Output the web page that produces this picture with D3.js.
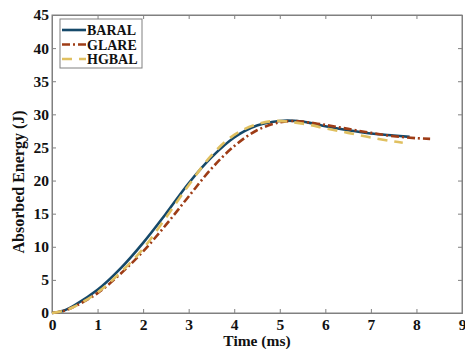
<!DOCTYPE html>
<html>
<head>
<meta charset="utf-8">
<script src="https://cdn.jsdelivr.net/npm/d3@7"></script>
<style>
  body { margin: 0; background: #fff; }
  text { font-family: "Liberation Serif", "Times New Roman", serif; font-weight: bold; }
</style>
</head>
<body>
<svg id="chart" width="465" height="349"></svg>
<script>
// values
const seriesNames = ['BARAL', 'GLARE', 'HGBAL'];

const baralTime = [0, 0.25, 0.5, 1, 1.5, 2, 2.5, 3, 3.5, 4, 4.5, 5, 5.5, 6, 6.5, 7, 7.5, 7.85];
const baralEnergy = [0, 0.35, 1.2, 3.5, 6.7, 10.6, 15.0, 19.6, 23.5, 26.5, 28.3, 29.0, 28.9, 28.2, 27.6, 27.1, 26.8, 26.6];

const glareTime = [0, 0.25, 0.5, 1, 1.5, 2, 2.5, 3, 3.5, 4, 4.5, 5, 5.3, 5.5, 6, 6.5, 7, 7.5, 8, 8.3];
const glareEnergy = [0, 0.3, 1.0, 3.0, 5.9, 9.3, 13.3, 17.6, 21.8, 25.2, 27.6, 28.8, 29.0, 28.9, 28.4, 27.8, 27.2, 26.7, 26.4, 26.3];

const hgbalTime = [0, 0.25, 0.5, 1, 1.5, 2, 2.5, 3, 3.5, 4, 4.5, 4.9, 5.5, 6, 6.5, 7, 7.5, 7.7];
const hgbalEnergy = [0, 0.3, 1.0, 3.1, 6.1, 9.7, 14.4, 19.3, 23.8, 26.9, 28.5, 29.0, 28.6, 27.9, 27.2, 26.5, 25.9, 25.7];

const xTicks = [0, 1, 2, 3, 4, 5, 6, 7, 8, 9];
const yTicks = [0, 5, 10, 15, 20, 25, 30, 35, 40, 45];

const colors = ['#15496a', '#9e3c16', '#e0c060'];
const dashes = [null, '8,3,2,3', '10,7'];

const svg = d3.select('#chart');
const plotLeft = 52, plotRight = 462, plotTop = 15, plotBottom = 313;

const x = d3.scaleLinear().domain([0, 9]).range([plotLeft, plotRight]);
const y = d3.scaleLinear().domain([0, 45]).range([plotBottom, plotTop]);

const axisColor = '#808080';

// box
svg.append('rect')
  .attr('x', plotLeft).attr('y', plotTop)
  .attr('width', plotRight - plotLeft).attr('height', plotBottom - plotTop)
  .attr('fill', 'none').attr('stroke', axisColor).attr('stroke-width', 1);

// axes, ticks pointing inward
const xAxis = svg.append('g').attr('transform', `translate(0,${plotBottom})`)
  .call(d3.axisBottom(x).tickValues(xTicks).tickSize(-4).tickPadding(6).tickFormat(d3.format('d')));
const xTop = svg.append('g').attr('transform', `translate(0,${plotTop})`)
  .call(d3.axisTop(x).tickValues(xTicks).tickSize(-4).tickFormat(''));
const yAxis = svg.append('g').attr('transform', `translate(${plotLeft},0)`)
  .call(d3.axisLeft(y).tickValues(yTicks).tickSize(-4).tickPadding(3).tickFormat(d3.format('d')));
const yRight = svg.append('g').attr('transform', `translate(${plotRight},0)`)
  .call(d3.axisRight(y).tickValues(yTicks).tickSize(-4).tickFormat(''));

[xAxis, xTop, yAxis, yRight].forEach(g => {
  g.attr('font-family', null);
  g.select('.domain').attr('stroke', axisColor);
  g.selectAll('.tick line').attr('stroke', axisColor);
  g.selectAll('.tick text')
    .attr('fill', '#111')
    .style('font-size', '15.5px')
    .style('font-family', '"Liberation Serif", serif')
    .style('font-weight', 'bold');
});

// axis titles
svg.append('text')
  .attr('x', x(4.5)).attr('y', 346)
  .attr('text-anchor', 'middle')
  .style('font-size', '15.5px')
  .attr('fill', '#111')
  .text('Time (ms)');

svg.append('text')
  .attr('transform', `translate(24,182) rotate(-90)`)
  .attr('text-anchor', 'middle')
  .style('font-size', '16px')
  .attr('fill', '#111')
  .text('Absorbed Energy (J)');

// curves
const line = d3.line()
  .x(d => x(d[0]))
  .y(d => y(d[1]))
  .curve(d3.curveCatmullRom.alpha(0.5));

const series = [
  d3.zip(baralTime, baralEnergy),
  d3.zip(glareTime, glareEnergy),
  d3.zip(hgbalTime, hgbalEnergy)
];

series.forEach((pts, i) => {
  svg.append('path')
    .datum(pts)
    .attr('d', line)
    .attr('fill', 'none')
    .attr('stroke', colors[i])
    .attr('stroke-width', 2.6)
    .attr('stroke-dasharray', dashes[i]);
});

// legend
const legend = svg.append('g');
legend.append('rect')
  .attr('x', 60).attr('y', 19)
  .attr('width', 82).attr('height', 49)
  .attr('fill', '#fff').attr('stroke', axisColor).attr('stroke-width', 1);

seriesNames.forEach((name, i) => {
  const ly = 30 + i * 14.5;
  legend.append('line')
    .attr('x1', 62).attr('x2', 86)
    .attr('y1', ly).attr('y2', ly)
    .attr('stroke', colors[i])
    .attr('stroke-width', 2.6)
    .attr('stroke-dasharray', dashes[i]);
  legend.append('text')
    .attr('x', 87).attr('y', ly + 5)
    .style('font-size', '14px')
    .attr('fill', '#111')
    .text(name);
});
</script>
</body>
</html>
